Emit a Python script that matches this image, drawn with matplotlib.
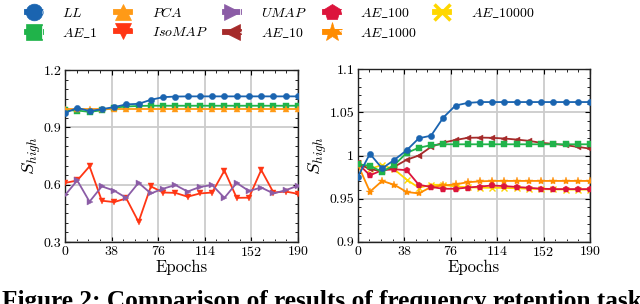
import matplotlib
matplotlib.use("Agg")
import matplotlib.pyplot as plt
from matplotlib.lines import Line2D
from matplotlib.legend_handler import HandlerTuple
from matplotlib.ticker import MultipleLocator, AutoMinorLocator, FuncFormatter

plt.rcParams['font.family'] = ['cmr10', 'DejaVu Serif']
plt.rcParams['mathtext.fontset'] = 'cm'
plt.rcParams['axes.formatter.use_mathtext'] = True

epochs = list(range(0, 200, 10))

# left panel
ll = [0.975, 1.002, 0.985, 0.995, 1.006, 1.020, 1.023, 1.044, 1.058, 1.061,
      1.062, 1.062, 1.062, 1.062, 1.062, 1.062, 1.062, 1.062, 1.062, 1.062]
ae_1 = [0.990, 0.988, 0.981, 0.989, 1.003, 1.009, 1.012, 1.013, 1.013, 1.013,
        1.013, 1.013, 1.013, 1.013, 1.013, 1.013, 1.013, 1.013, 1.013, 1.013]
pca = [0.998] * 20
isomap = [0.609, 0.622, 0.696, 0.516, 0.509, 0.528, 0.405, 0.591, 0.559, 0.557,
          0.537, 0.554, 0.559, 0.674, 0.531, 0.532, 0.677, 0.559, 0.564, 0.552]
umap = [0.545, 0.622, 0.511, 0.591, 0.569, 0.531, 0.610, 0.554, 0.579, 0.598,
        0.564, 0.588, 0.598, 0.531, 0.609, 0.567, 0.585, 0.554, 0.571, 0.595]

# right panel
ae_10 = [0.991, 0.984, 0.982, 0.987, 0.995, 1.000, 1.010, 1.015, 1.018, 1.0205,
         1.0208, 1.0205, 1.0197, 1.0185, 1.017, 1.0147, 1.0135, 1.012, 1.010, 1.008]
ae_100 = [0.991, 0.977, 0.983, 0.984, 0.983, 0.966, 0.9635, 0.9614, 0.9614, 0.9628,
          0.964, 0.9652, 0.9645, 0.9635, 0.9625, 0.9615, 0.961, 0.961, 0.961, 0.961]
ae_1000 = [0.990, 0.958, 0.9705, 0.966, 0.9577, 0.956, 0.9635, 0.9652, 0.9665, 0.969,
           0.970, 0.9705, 0.9705, 0.9705, 0.9705, 0.9705, 0.9705, 0.9705, 0.9705, 0.9705]
ae_10000 = [0.991, 0.9845, 0.989, 0.9838, 0.972, 0.9626, 0.966, 0.966, 0.964, 0.9632,
            0.9626, 0.9626, 0.9624, 0.962, 0.9615, 0.961, 0.9607, 0.9605, 0.9604, 0.9604]

xticks = [0, 38, 76, 114, 152, 190]

styles = {
    'LL': ('#1a64b0', 'o'),
    'AE_1': ('#20b34a', 's'),
    'PCA': ('#ff9a16', '^'),
    'IsoMAP': ('#ff3614', 'v'),
    'UMAP': ('#8b5ca6', '>'),
    'AE_10': ('#a52a2a', '<'),
    'AE_100': ('#dc143c', 'p'),
    'AE_1000': ('#ff8c00', '*'),
    'AE_10000': ('#ffd700', 'x'),
}
labels_tex = {
    'LL': r'$LL$', 'AE_1': r'$AE\_1$', 'PCA': r'$PCA$', 'IsoMAP': r'$IsoMAP$',
    'UMAP': r'$UMAP$', 'AE_10': r'$AE\_10$', 'AE_100': r'$AE\_100$',
    'AE_1000': r'$AE\_1000$', 'AE_10000': r'$AE\_10000$',
}

fig = plt.figure(figsize=(6.4, 3.04), dpi=100)
axL = fig.add_axes([65/640, 62/304, 233/640, 172/304])
axR = fig.add_axes([357.7/640, 62.3/304, 232.3/640, 172.4/304])


def plot_series(ax, name, vals):
    c, m = styles[name]
    ms = 4.5 if m != '*' else 6
    ax.plot(epochs, vals, color=c, marker=m, lw=1.3, ms=ms, mew=1.0 if m == 'x' else 0.3,
            mec=c, zorder=3)


for name, vals in [('IsoMAP', isomap), ('UMAP', umap), ('AE_1', ae_1), ('PCA', pca), ('LL', ll)]:
    plot_series(axL, name, vals)
for name, vals in [('AE_10000', ae_10000), ('AE_1000', ae_1000), ('AE_100', ae_100),
                   ('AE_10', ae_10), ('AE_1', ae_1), ('LL', ll)]:
    plot_series(axR, name, vals)

fmt = FuncFormatter(lambda v, p: ('%g' % round(v, 4)))


def style_ax(ax, ylim, ymaj, ydiv):
    ax.set_xlim(0, 190)
    ax.set_ylim(*ylim)
    ax.set_xticks(xticks)
    ax.xaxis.set_minor_locator(AutoMinorLocator(4))
    ax.yaxis.set_major_locator(MultipleLocator(ymaj))
    ax.yaxis.set_minor_locator(AutoMinorLocator(ydiv))
    ax.yaxis.set_major_formatter(fmt)
    ax.tick_params(which='both', direction='in', top=True, right=True, labelsize=10)
    ax.tick_params(which='major', length=3.5, width=0.8, pad=2.5)
    ax.tick_params(which='minor', length=2, width=0.6)
    ax.grid(True, which='major', color='#cccccc', lw=1.3)
    ax.set_axisbelow(True)
    for s in ax.spines.values():
        s.set_linewidth(1.0)
        s.set_color('#222222')
    ax.set_xlabel('Epochs', fontsize=12, labelpad=0.5)
    ax.set_ylabel(r'$S_{high}$', fontsize=13.5, labelpad=0.5)


style_ax(axL, (0.3, 1.2), 0.3, 6)
style_ax(axR, (0.9, 1.1), 0.05, 5)

# legend
order = ['LL', 'AE_1', 'PCA', 'IsoMAP', 'UMAP', 'AE_10', 'AE_100', 'AE_1000', 'AE_10000']
handles = []
for n in order:
    c, m = styles[n]
    big = Line2D([], [], color=c, lw=4.2, marker=m, ms=12 if m != '*' else 15,
                 mec=c, mfc=c, mew=2.5 if m == 'x' else 0.5)
    inner = Line2D([], [], ls='none', marker=m, ms=8 if m != '*' else 10,
                   mfc='none', mec='white', mew=0.6 if m != 'x' else 0)
    handles.append((big, inner))
fig.legend(handles, [labels_tex[n] for n in order], ncol=5, frameon=False,
           loc='center left', bbox_to_anchor=(0.042, 1 - 23/304),
           handler_map={tuple: HandlerTuple(ndivide=None, pad=0)},
           fontsize=10, handlelength=2.0, handletextpad=0.55, columnspacing=1.3,
           labelspacing=0.45, borderpad=0, borderaxespad=0)

fig.text(0.003, -4/304, 'Figure 2: Comparison of results of frequency retention task',
         family=['Liberation Serif', 'DejaVu Serif'], weight='bold', fontsize=18.2,
         ha='left', va='baseline')

fig.savefig('out.png', dpi=100)
